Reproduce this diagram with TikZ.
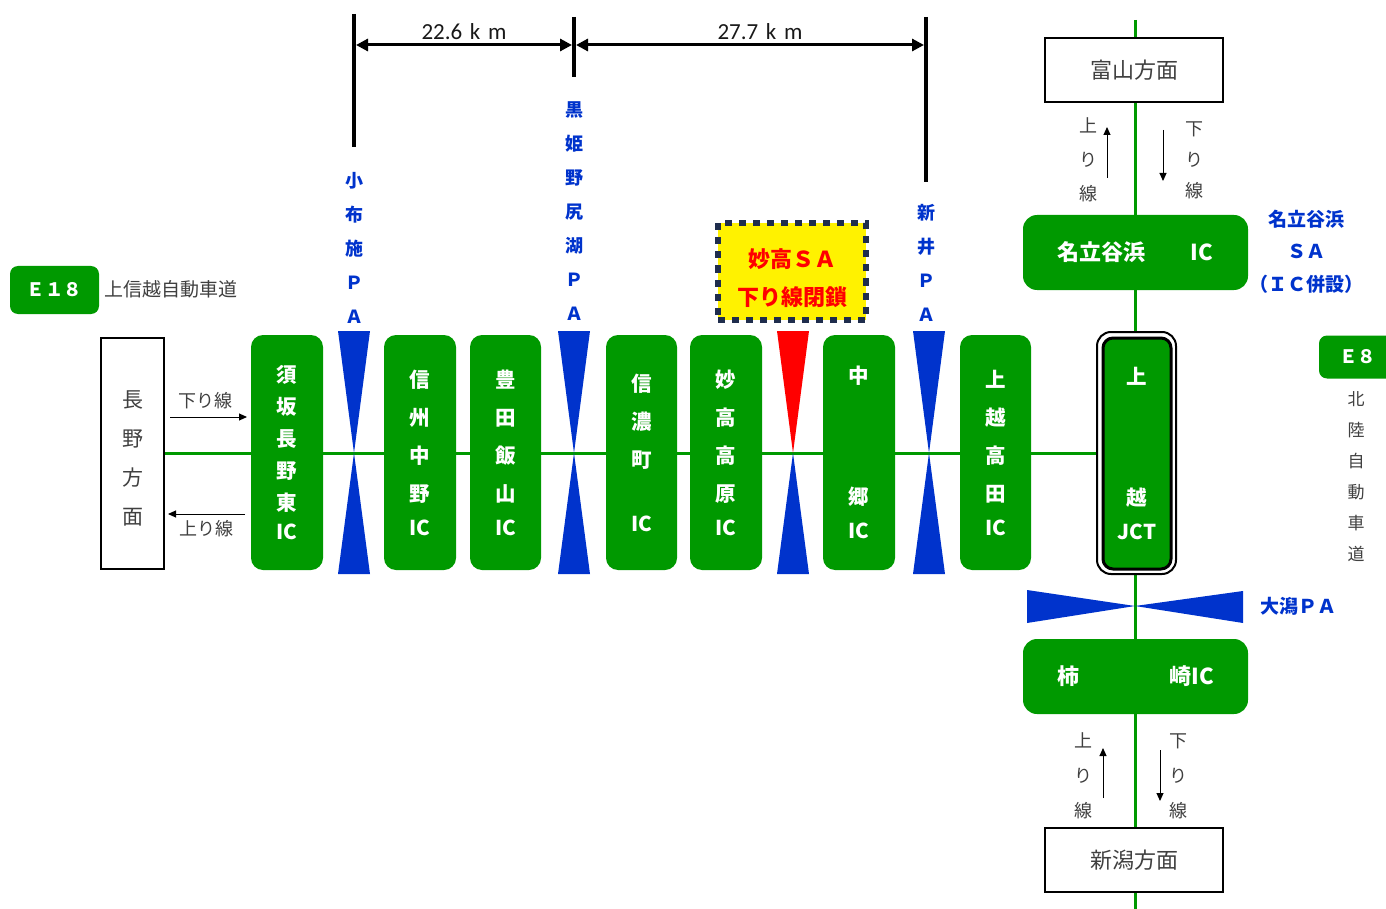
\documentclass[tikz,border=0pt]{standalone}
\usepackage{fontspec}
\setmainfont{Noto Sans CJK JP}
\newfontfamily\carl{Carlito}
\usetikzlibrary{arrows.meta,backgrounds}
\definecolor{hwgreen}{HTML}{009900}
\definecolor{pablue}{HTML}{0033CC}
\definecolor{txgray}{HTML}{404040}
\definecolor{navy}{HTML}{1F2D4D}
\tikzset{
  icbox/.style={fill=hwgreen, rounded corners=12pt, minimum width=72pt, minimum height=235pt, inner sep=0pt, text=white, align=center, font=\bfseries\fontsize{20.5}{38}\selectfont},
  hbox/.style={fill=hwgreen, rounded corners=14pt, minimum width=225pt, minimum height=75pt, inner sep=0pt, text=white, font=\bfseries\fontsize{22}{26}\selectfont},
  dirbox/.style={draw=black, line width=1.5pt, fill=white, inner sep=0pt, text=txgray, align=center},
  badge/.style={fill=hwgreen, rounded corners=8pt, inner sep=0pt, text=white, font=\bfseries\fontsize{18.5}{22}\selectfont},
  palabel/.style={text=pablue, align=center, inner sep=0pt, font=\bfseries\fontsize{18}{34}\selectfont},
  graytext/.style={text=txgray, align=center, inner sep=0pt},
  road/.style={draw=hwgreen, line width=3pt},
  dirarrow/.style={draw=black, line width=1pt, -{Triangle[length=8pt,width=7pt]}},
  dimtick/.style={draw=black, line width=4pt},
  dimarrow/.style={draw=black, line width=3pt, {Triangle[length=12pt,width=12pt]}-{Triangle[length=12pt,width=12pt]}},
  dimlabel/.style={inner sep=0pt, text=black!90, font=\carl\fontsize{23}{26}\selectfont},
}
\begin{document}
\begin{tikzpicture}[x=1pt,y=-1pt]
\useasboundingbox (0,0) rectangle (1386,909);

% direction boxes
\node[dirbox, minimum width=63pt, minimum height=231pt] (nagano) at (132.5,453.5) {};
\node[graytext, font=\fontsize{21}{39}\selectfont] (naganotext) at ([yshift=-4.5pt]nagano.center) {長\\野\\方\\面};
\node[dirbox, minimum width=178pt, minimum height=64pt, font=\fontsize{22}{26}\selectfont] (toyama) at (1134,70) {富山方面};
\node[dirbox, minimum width=178pt, minimum height=64pt, font=\fontsize{22}{26}\selectfont] (niigata) at (1134,860) {新潟方面};

% badges
\node[badge, minimum width=89pt, minimum height=48pt] (e18) at (54.5,290) {Ｅ１８};
\node[graytext, font=\fontsize{19}{22}\selectfont, anchor=west] (joshinetsu) at (104,289) {上信越自動車道};
\node[badge, minimum width=77pt, minimum height=43pt] (e8) at (1357.5,357) {Ｅ８};
\node[graytext, font=\fontsize{17}{31}\selectfont] (hokuriku) at (1356,476.5) {北\\陸\\自\\動\\車\\道};

% interchanges
\node[icbox, font=\bfseries\fontsize{20.5}{32}\selectfont] (suzaka) at (287,452.5) {須\\坂\\長\\野\\東\\[-3pt]IC};
\node[icbox] (shinshu) at (420,452.5) {信\\州\\中\\野\\[-4pt]IC};
\node[icbox, minimum width=71pt] (toyoda) at (505.5,452.5) {豊\\田\\飯\\山\\[-4pt]IC};
\node[icbox, minimum width=71pt] (shinano) at (641.5,452.5) {信\\濃\\町\\[26pt]IC};
\node[icbox] (myoko) at (726,452.5) {妙\\高\\高\\原\\[-4pt]IC};
\node[icbox] (nakago) at (859,452.5) {中\\[83pt]郷\\[-4pt]IC};
\node[icbox, minimum width=71pt] (takada) at (995.5,452.5) {上\\越\\高\\田\\[-4pt]IC};

% junction
\node[draw=black, line width=2pt, fill=white, rounded corners=14pt, minimum width=79pt, minimum height=242pt, inner sep=0pt] (jctframe) at (1136.5,453) {};
\node[icbox, draw=black, line width=3pt, rounded corners=10pt, minimum width=68pt, minimum height=231pt] (jct) at (1137,453.5) {上\\[83pt]越\\[-4pt]JCT};

\node[hbox] (nadachi) at (1135.5,252.5) {名立谷浜\hspace{45pt}IC};
\node[hbox] (kakizaki) at (1135.5,676.5) {柿\hspace{90pt}崎IC};

% closed SA
\node[fill=yellow, draw=navy, line width=6pt, dash pattern=on 7pt off 7pt, minimum width=148pt, minimum height=96pt, inner sep=0pt] (sa) at (792,271.5) {};
\node[text=red, align=center, font=\bfseries\fontsize{22}{38}\selectfont, inner sep=0pt] (satext) at ([yshift=-6.5pt]sa.center) {妙高ＳＡ\\下り線閉鎖};

% parking labels
\node[palabel] (kobuse) at (354,248) {小\\布\\施\\Ｐ\\Ａ};
\node[palabel] (kurohime) at (574,211.5) {黒\\姫\\野\\尻\\湖\\Ｐ\\Ａ};
\node[palabel] (arai) at (926,263) {新\\井\\Ｐ\\Ａ};
\node[palabel, font=\bfseries\fontsize{19}{32.5}\selectfont] (nadachisa) at (1306,251.5) {名立谷浜\\ＳＡ\\（ＩＣ併設）};
\node[palabel, font=\bfseries\fontsize{19}{22}\selectfont] (ogata) at (1298,606) {大潟ＰＡ};

% parking symbols
\foreach \x in {354,574,929}{
  \fill[pablue] (\x-16,331) -- (\x+16,331) -- (\x,453) -- cycle;
  \fill[pablue] (\x-16,574) -- (\x+16,574) -- (\x,453) -- cycle;
}
\fill[red] (777,331) -- (809,331) -- (793,453) -- cycle;
\fill[pablue] (777,574) -- (809,574) -- (793,453) -- cycle;
\fill[pablue] (1027,590) -- (1027,623) -- (1135,606) -- cycle;
\fill[pablue] (1243,591) -- (1243,623) -- (1135,606) -- cycle;

% roads
\coordinate (vtop) at (1135,20);
\coordinate (vbot) at (1135,909);
\begin{pgfonlayer}{background}
\draw[road] (nagano.east) -- (nagano.east -| jctframe.west);
\draw[road] (vtop) -- (vbot);
\end{pgfonlayer}

% direction arrows and labels
\node[graytext, font=\fontsize{18}{22}\selectfont] (kudari1) at (205,401) {下り線};
\node[graytext, font=\fontsize{18}{22}\selectfont] (nobori1) at (206,529) {上り線};
\coordinate (k1s) at (170,417); \coordinate (k1e) at (247,417);
\coordinate (n1s) at (245,514); \coordinate (n1e) at (168,514);
\draw[dirarrow] (k1s) -- (k1e);
\draw[dirarrow] (n1s) -- (n1e);

\node[graytext, font=\fontsize{18}{34}\selectfont] (nobori2) at (1088,160) {上\\り\\線};
\node[graytext, font=\fontsize{18}{31}\selectfont] (kudari2) at (1194,160) {下\\り\\線};
\coordinate (n2s) at (1107,178); \coordinate (n2e) at (1107,127);
\coordinate (k2s) at (1163,130); \coordinate (k2e) at (1163,181);
\draw[dirarrow] (n2s) -- (n2e);
\draw[dirarrow] (k2s) -- (k2e);

\node[graytext, font=\fontsize{18}{35}\selectfont] (nobori3) at (1083,776) {上\\り\\線};
\node[graytext, font=\fontsize{18}{35}\selectfont] (kudari3) at (1178,776) {下\\り\\線};
\coordinate (n3s) at (1103,798); \coordinate (n3e) at (1103,748);
\coordinate (k3s) at (1160,750); \coordinate (k3e) at (1160,801);
\draw[dirarrow] (n3s) -- (n3e);
\draw[dirarrow] (k3s) -- (k3e);

% distances
\coordinate (t1a) at (354,14); \coordinate (t1b) at (354,147);
\coordinate (t2a) at (574,17); \coordinate (t2b) at (574,77);
\coordinate (t3a) at (926,17); \coordinate (t3b) at (926,182);
\draw[dimtick] (t1a) -- (t1b);
\draw[dimtick] (t2a) -- (t2b);
\draw[dimtick] (t3a) -- (t3b);
\coordinate (d1) at (356,45); \coordinate (d2l) at (572,45);
\coordinate (d2r) at (576,45); \coordinate (d3) at (924,45);
\draw[dimarrow] (d1) -- (d2l);
\draw[dimarrow] (d2r) -- (d3);
\node[dimlabel] (dist1) at (464,32) {22.6\,\,k\,\,m};
\node[dimlabel] (dist2) at (760,32) {27.7\,\,k\,\,m};
\end{tikzpicture}
\end{document}
